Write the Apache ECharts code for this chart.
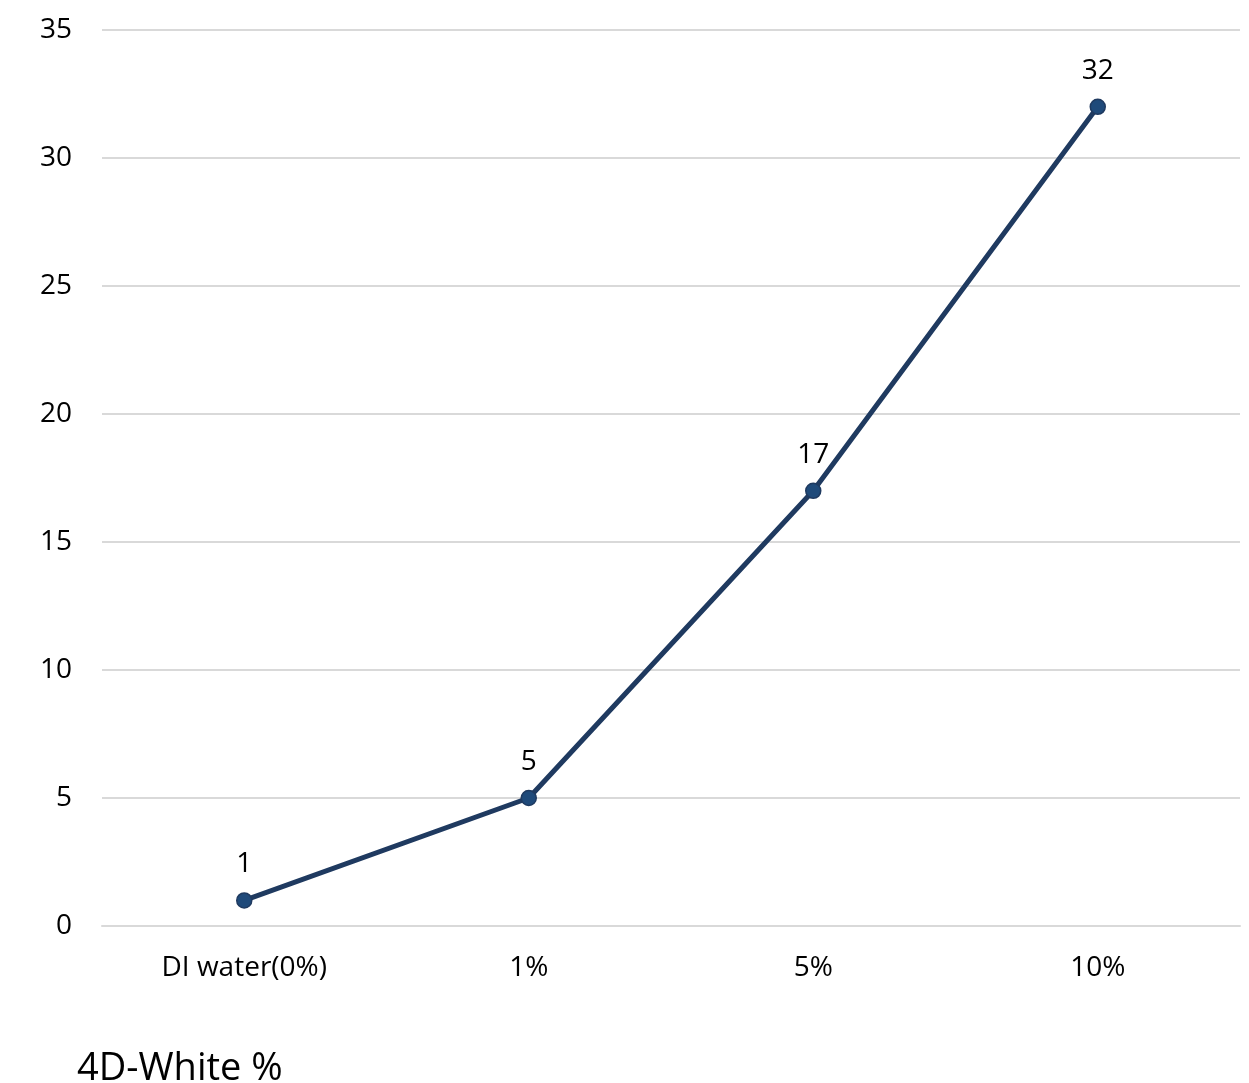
<!DOCTYPE html>
<html>
<head>
<meta charset="utf-8">
<script src="https://cdn.jsdelivr.net/npm/echarts@6/dist/echarts.min.js"></script>
<style>
html,body{margin:0;padding:0;background:#fff;}
#chart{width:1249px;height:1083px;}
</style>
</head>
<body>
<div id="chart"></div>
<script>
const categories = ["DI water(0%)", "1%", "5%", "10%"];
const values = [1, 5, 17, 32];
const yTicks = { min: 0, max: 35, interval: 5 };
const titleText = "4D-White %";

const chart = echarts.init(document.getElementById('chart'), null, { renderer: 'canvas' });
const font = "'Open Sans', 'Noto Sans', sans-serif";
chart.setOption({
  animation: false,
  backgroundColor: '#ffffff',
  title: {
    text: titleText,
    left: 72,
    top: 1044,
    textStyle: { fontFamily: font, fontSize: 38, fontWeight: 'normal', color: '#000', lineHeight: 40 }
  },
  grid: { left: 102, right: 9, top: 30, bottom: 157, containLabel: false },
  xAxis: {
    type: 'category',
    data: categories,
    boundaryGap: true,
    axisLine: { show: true, lineStyle: { color: '#d9d9d9', width: 2 } },
    axisTick: { show: false },
    axisLabel: { fontFamily: font, fontSize: 28, color: '#000', margin: 28 }
  },
  yAxis: {
    type: 'value',
    min: yTicks.min, max: yTicks.max, interval: yTicks.interval,
    axisLine: { show: false },
    axisTick: { show: false },
    splitLine: { lineStyle: { color: '#d9d9d9', width: 2 } },
    axisLabel: { fontFamily: font, fontSize: 28, color: '#000', margin: 30 }
  },
  series: [{
    type: 'line',
    data: values,
    symbol: 'circle',
    symbolSize: 15,
    lineStyle: { color: '#1f3a60', width: 5 },
    itemStyle: { color: '#1f4a7a', borderColor: '#1f3a60', borderWidth: 1.5 },
    label: {
      show: true, position: 'top', distance: 14,
      fontFamily: font, fontSize: 28, color: '#000'
    }
  }]
});
</script>
</body>
</html>
